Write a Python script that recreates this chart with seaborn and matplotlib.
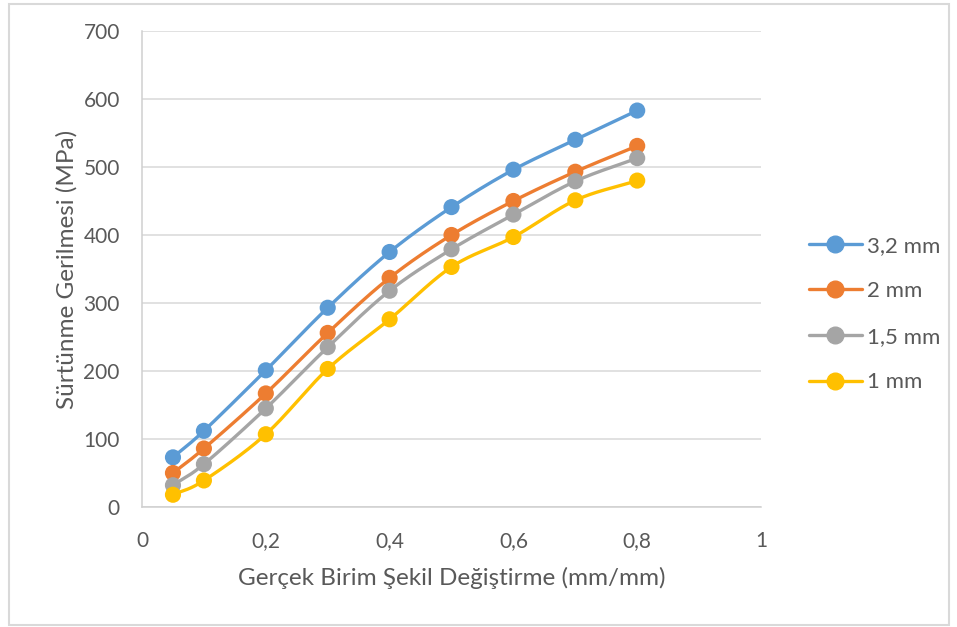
import numpy as np
import pandas as pd
import matplotlib
matplotlib.use("Agg")
import matplotlib.pyplot as plt
from matplotlib.lines import Line2D
from matplotlib.patches import Rectangle
from matplotlib.ticker import FuncFormatter
import seaborn as sns

# Strain values (mm/mm)
strain = [0.05, 0.1, 0.2, 0.3, 0.4, 0.5, 0.6, 0.7, 0.8]

# Friction stress (MPa) for each thickness
series_names = ["3,2 mm", "2 mm", "1,5 mm", "1 mm"]
stress_32 = [73, 112, 201, 293, 375, 441, 496, 540, 583]
stress_2 = [50, 86, 167, 256, 337, 400, 450, 493, 531]
stress_15 = [32, 63, 145, 235, 318, 379, 430, 479, 513]
stress_1 = [18, 39, 107, 203, 276, 353, 397, 451, 480]

colors = ["#5B9BD5", "#ED7D31", "#A5A5A5", "#FFC000"]
x_ticks = [0, 0.2, 0.4, 0.6, 0.8, 1]
y_ticks = [0, 100, 200, 300, 400, 500, 600, 700]

all_stress = [stress_32, stress_2, stress_15, stress_1]

points = pd.DataFrame({
    "strain": np.tile(strain, len(series_names)),
    "stress": np.concatenate(all_stress),
    "series": np.repeat(series_names, len(strain)),
})


def catmull_rom(xs, ys, n=30):
    """Smooth curve through the points, like a spreadsheet 'smoothed line'."""
    p = np.column_stack([xs, ys]).astype(float)
    p = np.vstack([p[0] - (p[1] - p[0]), p, p[-1] + (p[-1] - p[-2])])
    out = []
    for i in range(1, len(p) - 2):
        p0, p1, p2, p3 = p[i - 1], p[i], p[i + 1], p[i + 2]
        t = np.linspace(0, 1, n, endpoint=(i == len(p) - 3))[:, None]
        seg = 0.5 * ((2 * p1) + (-p0 + p2) * t
                     + (2 * p0 - 5 * p1 + 4 * p2 - p3) * t ** 2
                     + (-p0 + 3 * p1 - 3 * p2 + p3) * t ** 3)
        out.append(seg)
    out = np.vstack(out)
    return out[:, 0], out[:, 1]


smooth_rows = []
for name, ys in zip(series_names, all_stress):
    sx, sy = catmull_rom(strain, ys)
    smooth_rows.append(pd.DataFrame({"strain": sx, "stress": sy, "series": name}))
smooth = pd.concat(smooth_rows, ignore_index=True)

sns.set_theme(style="white")
plt.rcParams["font.family"] = ["Lato", "DejaVu Sans"]
text_color = "#595959"

fig = plt.figure(figsize=(9.57, 6.27), dpi=100)
ax = fig.add_axes([0.1484, 0.1914, 0.6468, 0.7592])

palette = dict(zip(series_names, colors))
sns.lineplot(data=smooth, x="strain", y="stress", hue="series", palette=palette,
             sort=False, estimator=None, linewidth=2.4, legend=False, ax=ax, zorder=3)
sns.scatterplot(data=points, x="strain", y="stress", hue="series", palette=palette,
                s=135, linewidth=0, legend=False, ax=ax, zorder=4)

ax.set_xlim(0, 1)
ax.set_ylim(0, 700)
ax.set_xticks(x_ticks)
ax.set_yticks(y_ticks)
comma = FuncFormatter(lambda v, pos: ("%g" % v).replace(".", ","))
ax.xaxis.set_major_formatter(comma)
ax.yaxis.set_major_formatter(comma)
ax.tick_params(axis="both", length=0, labelsize=15, colors=text_color)
ax.tick_params(axis="x", pad=17)
ax.tick_params(axis="y", pad=16)
ax.grid(axis="y", color="#D9D9D9", linewidth=1.1)
ax.set_axisbelow(True)
for side in ["top", "right"]:
    ax.spines[side].set_visible(False)
for side in ["left", "bottom"]:
    ax.spines[side].set_color("#D0D0D0")
    ax.spines[side].set_linewidth(1.1)

ax.set_xlabel("Gerçek Birim Şekil Değiştirme (mm/mm)", fontsize=17.5, color=text_color, labelpad=12)
ax.set_ylabel("Sürtünme Gerilmesi (MPa)", fontsize=17.5, color=text_color, labelpad=4.5)

handles = [Line2D([0], [0], color=c, lw=2.4, marker="o", markersize=12) for c in colors]
leg = fig.legend(handles, series_names, loc="center left", bbox_to_anchor=(0.824, 0.4992),
                 frameon=False, fontsize=16, handlelength=2.4, handletextpad=0.23,
                 labelspacing=1.15, labelcolor=text_color)

# chart frame
fig.patches.append(Rectangle((9 / 957, 2 / 627), 940 / 957, 621 / 627, transform=fig.transFigure,
                             fill=False, edgecolor="#D9D9D9", linewidth=1.5))

fig.savefig("out.png", dpi=100)
